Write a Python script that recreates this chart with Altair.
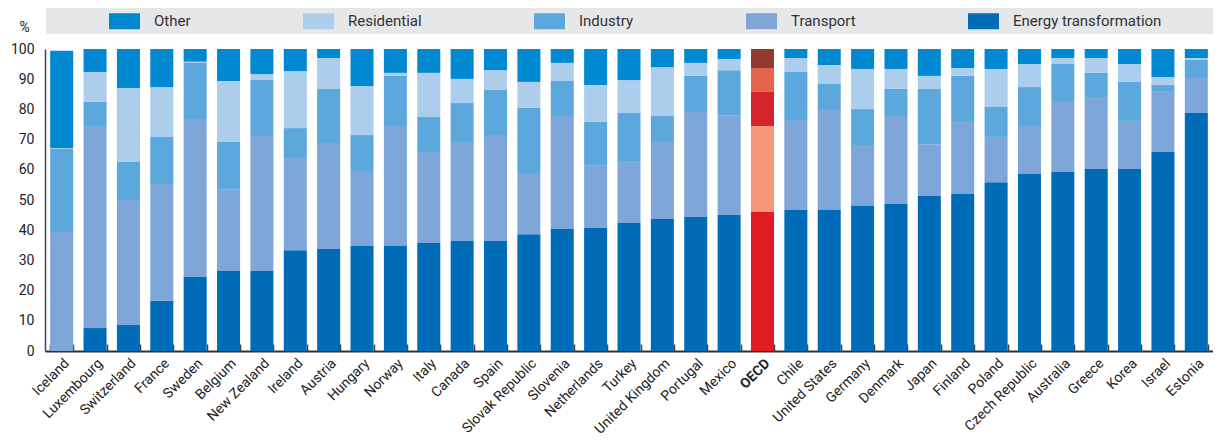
import altair as alt
import pandas as pd

countries = ["Iceland", "Luxembourg", "Switzerland", "France", "Sweden", "Belgium",
             "New Zealand", "Ireland", "Austria", "Hungary", "Norway", "Italy", "Canada",
             "Spain", "Slovak Republic", "Slovenia", "Netherlands", "Turkey",
             "United Kingdom", "Portugal", "Mexico", "OECD", "Chile", "United States",
             "Germany", "Denmark", "Japan", "Finland", "Poland", "Czech Republic",
             "Australia", "Greece", "Korea", "Israel", "Estonia"]

energy = [0, 7.6, 8.6, 16.6, 24.5, 26.5, 26.5, 33.4, 33.8, 34.8, 34.8, 35.8, 36.4, 36.4,
          38.7, 40.4, 40.7, 42.4, 43.7, 44.4, 45.0, 46.0, 46.7, 46.7, 48.0, 48.7, 51.3,
          52.0, 55.9, 58.6, 59.3, 60.3, 60.3, 65.9, 78.8]
transport = [39.4, 66.6, 41.1, 38.7, 52.3, 27.1, 44.7, 30.5, 35.1, 24.8, 39.7, 30.1, 32.5,
             35.1, 20.2, 37.4, 20.6, 19.9, 25.5, 34.7, 33.1, 28.5, 29.8, 33.4, 20.2, 29.1,
             17.2, 24.2, 15.0, 15.9, 23.5, 23.5, 15.9, 19.9, 11.6]
industry = [27.5, 8.3, 12.9, 15.6, 18.7, 15.6, 18.5, 9.9, 17.9, 11.9, 16.6, 11.6, 13.2,
            14.9, 21.6, 11.6, 14.5, 16.5, 8.6, 12.0, 14.9, 11.3, 15.9, 8.3, 11.9, 9.0,
            18.3, 14.9, 9.9, 12.9, 12.2, 8.3, 12.9, 2.3, 6.0]
residential = [0.3, 9.9, 24.5, 16.5, 0.3, 20.2, 2.0, 18.9, 10.2, 16.2, 1.0, 14.6, 8.0,
               6.6, 8.6, 6.0, 12.3, 10.9, 16.2, 4.3, 3.7, 7.9, 4.6, 6.3, 13.3, 6.6, 4.3,
               2.6, 12.6, 7.6, 2.0, 4.9, 5.9, 2.6, 0.6]
other = [32.2, 7.6, 12.9, 12.6, 4.2, 10.6, 8.3, 7.3, 3.0, 12.3, 7.9, 7.9, 9.9, 7.0, 10.9,
         4.6, 11.9, 10.3, 6.0, 4.6, 3.3, 6.3, 3.0, 5.3, 6.6, 6.6, 8.9, 6.3, 6.6, 5.0, 3.0,
         3.0, 5.0, 9.3, 3.0]

# stacking order bottom -> top
sectors = ["Energy transformation", "Transport", "Industry", "Residential", "Other"]
series = [energy, transport, industry, residential, other]
legend_order = ["Other", "Residential", "Industry", "Transport", "Energy transformation"]
blue_colors = {"Other": "#0088d1", "Residential": "#adcdec", "Industry": "#5ca8dd",
               "Transport": "#7fa6d8", "Energy transformation": "#006bb6"}
red_colors = {"Other": "#923a2d", "Residential": "#e5654c", "Industry": "#d4232a",
              "Transport": "#f59779", "Energy transformation": "#e01b23"}

rows = []
for si, (s, vals) in enumerate(zip(sectors, series)):
    for c, v in zip(countries, vals):
        key = ("OECD " + s) if c == "OECD" else s
        rows.append({"country": c, "sector": s, "key": key, "value": v, "order": si})
df = pd.DataFrame(rows)

domain = legend_order + ["OECD " + s for s in legend_order]
rng = [blue_colors[s] for s in legend_order] + [red_colors[s] for s in legend_order]

FONT = "Roboto"
W, H = 1168, 302

legend = alt.Legend(
    orient="none", legendX=64, legendY=-43.5, direction="horizontal", title=None,
    values=legend_order, symbolType="M-1,-0.516L1,-0.516L1,0.516L-1,0.516Z",
    symbolSize=961, symbolStrokeWidth=0, symbolOpacity=1, labelOffset=14,
    columnPadding=112, labelFontSize=15, labelFont=FONT, labelColor="#333333",
    padding=0, labelLimit=300,
)

bars = alt.Chart(df).mark_bar(opacity=1).encode(
    x=alt.X("country:N", sort=countries, title=None,
            scale=alt.Scale(paddingInner=0.31),
            axis=alt.Axis(orient="bottom", labelAngle=-45, labelFontSize=14, labelFont=FONT,
                          labelColor="#222222", ticks=False, tickSize=0, tickBand="extent",
                          grid=True, gridColor="white", gridWidth=1.5,
                          domainColor="#333333", domainWidth=2, labelPadding=5,
                          labelFontWeight={"expr": "datum.value == 'OECD' ? 'bold' : 'normal'"})),
    y=alt.Y("value:Q", stack="zero", scale=alt.Scale(domain=[0, 100], nice=False),
            axis=alt.Axis(values=list(range(0, 101, 10)), title="%", titleAngle=0,
                          titleX=-21, titleY=-15, titleAlign="center", titleBaseline="bottom",
                          titleFontSize=14, titleFontWeight="normal", titleFont=FONT,
                          titleColor="#222222", labelFontSize=14, labelFont=FONT,
                          labelColor="#222222", ticks=False, tickSize=0, labelPadding=11,
                          domainColor="#444444", domainWidth=1.5,
                          gridColor="white", gridWidth=2)),
    color=alt.Color("key:N", scale=alt.Scale(domain=domain, range=rng), legend=legend),
    order=alt.Order("order:Q", sort="ascending"),
)

inner_ticks = alt.Chart(df).mark_bar(opacity=0).encode(
    x=alt.X("country:N", sort=countries, title=None,
            axis=alt.Axis(orient="top", offset=-H, labels=False, domain=False, grid=False,
                          ticks=True, tickSize=7, tickBand="extent", tickColor="#444444",
                          tickWidth=1.5)),
    y=alt.value(H), y2=alt.value(H),
)

band = alt.Chart(alt.Data(values=[{"a": 1}])).mark_rect(color="#e6e7e9").encode(
    x=alt.value(1), x2=alt.value(W + 20), y=alt.value(-42), y2=alt.value(-15),
)

chart = alt.layer(band, bars, inner_ticks).properties(
    width=W, height=H,
    autosize=alt.AutoSizeParams(type="none"),
    padding={"left": 37, "top": 41, "right": 0, "bottom": 85},
).configure_view(stroke=None, fill="#e6e7e8").configure(font=FONT)

chart.save("out.html", embed_options={"renderer": "svg", "actions": False})
